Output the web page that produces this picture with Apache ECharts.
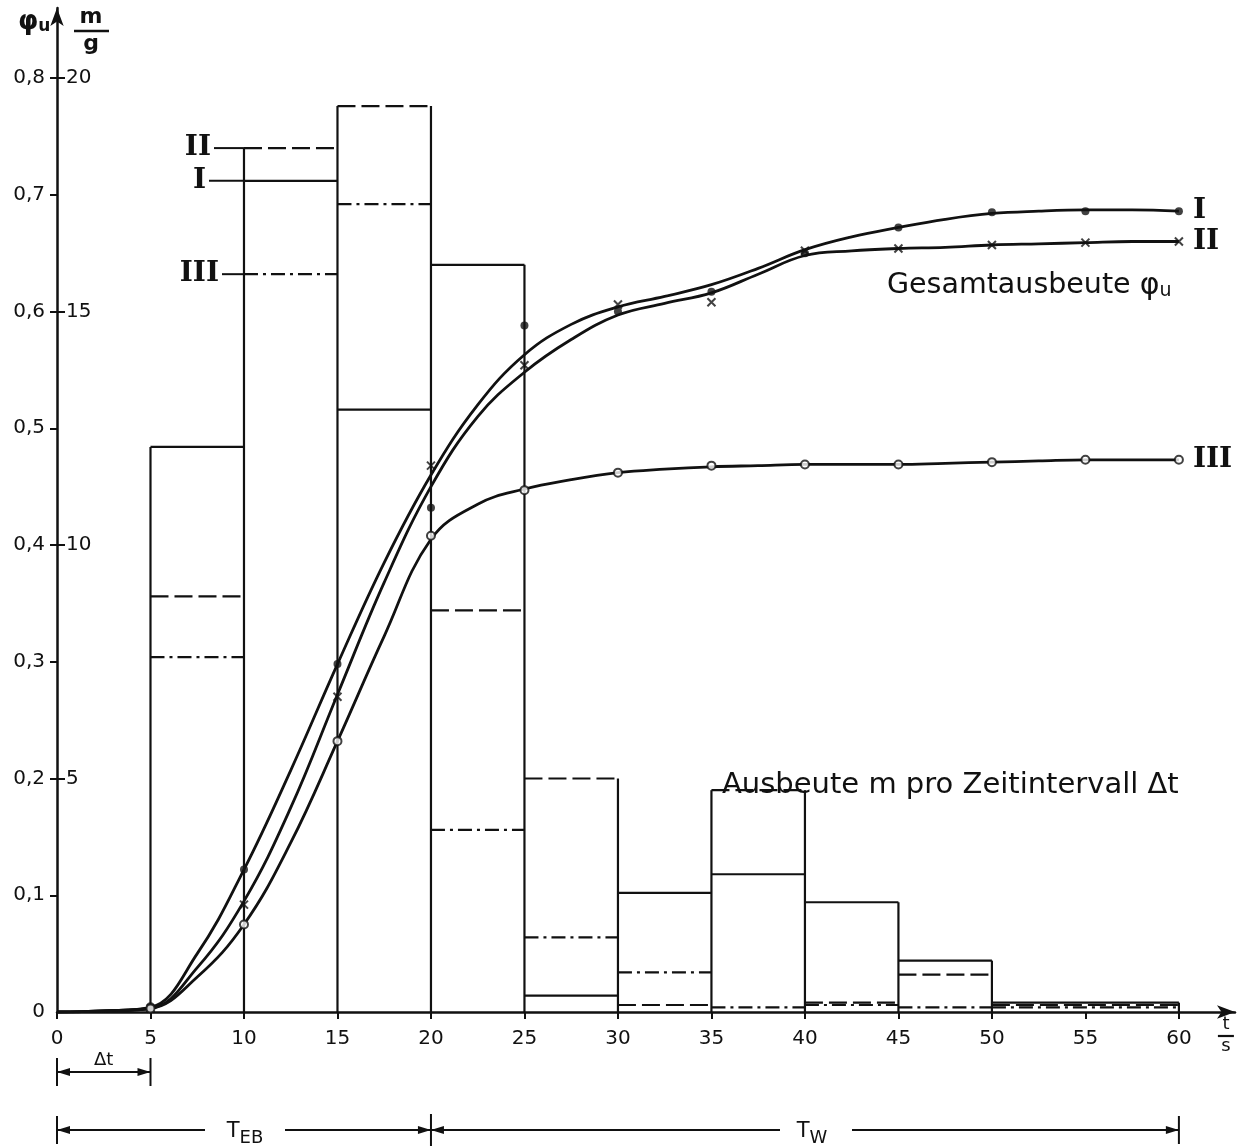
<!DOCTYPE html>
<html>
<head>
<meta charset="utf-8">
<script src="https://cdn.jsdelivr.net/npm/echarts@6/dist/echarts.min.js"></script>
<style>
  html, body { margin: 0; padding: 0; background: #fff; }
  #chart { width: 1240px; height: 1148px; }
</style>
</head>
<body>
<div id="chart"></div>
<script>
// ---- data ----------------------------------------------------------
// time axis ticks (s)
const timeTicks = [0, 5, 10, 15, 20, 25, 30, 35, 40, 45, 50, 55, 60];
// total yield phi_u ticks and yield-per-interval m/g ticks
const phiTicks = [0, 0.1, 0.2, 0.3, 0.4, 0.5, 0.6, 0.7, 0.8];
const massTicks = [5, 10, 15, 20];

// yield m per time interval (m/g), bins between consecutive edges
const binEdges = [5, 10, 15, 20, 25, 30, 35, 40, 45, 50, 60];
const massI   = [12.1, 17.8, 12.9, 16.0, 0.35, 2.55, 2.95, 2.35, 1.1, 0.2];
const massII  = [8.9, 18.5, 19.4, 8.6, 5.0, 0.15, 4.75, 0.2, 0.8, 0.15];
const massIII = [7.6, 15.8, 17.3, 3.9, 1.6, 0.85, 0.1, 0.15, 0.1, 0.1];

// smoothed total yield curves phi_u, sampled every 2.5 s
const curveT = [0, 2.5, 5, 7.5, 10, 12.5, 15, 17.5, 20, 22.5, 25, 27.5, 30,
                32.5, 35, 37.5, 40, 42.5, 45, 47.5, 50, 52.5, 55, 57.5, 60];
const curveI = [0, 0.001, 0.004, 0.05, 0.122, 0.207, 0.298, 0.385, 0.46, 0.52, 0.563, 0.589, 0.604,
                0.613, 0.623, 0.637, 0.653, 0.664, 0.672, 0.679, 0.684, 0.686, 0.687, 0.687, 0.686];
const curveII = [0, 0.001, 0.003, 0.038, 0.095, 0.175, 0.272, 0.368, 0.45, 0.51, 0.548, 0.576, 0.597,
                 0.607, 0.616, 0.632, 0.648, 0.652, 0.654, 0.655, 0.657, 0.658, 0.659, 0.66, 0.66];
const curveIII = [0, 0.001, 0.003, 0.03, 0.075, 0.145, 0.232, 0.322, 0.405, 0.435, 0.448, 0.456, 0.462,
                  0.465, 0.467, 0.468, 0.469, 0.469, 0.469, 0.47, 0.471, 0.472, 0.473, 0.473, 0.473];

// measured points phi_u
const pointT   = [5, 10, 15, 20, 25, 30, 35, 40, 45, 50, 55, 60];
const pointsI   = [0.005, 0.122, 0.298, 0.432, 0.588, 0.6, 0.617, 0.65, 0.672, 0.685, 0.686, 0.686];
const pointsII  = [0.003, 0.092, 0.27, 0.468, 0.554, 0.606, 0.608, 0.652, 0.654, 0.657, 0.659, 0.66];
const pointsIII = [0.003, 0.075, 0.232, 0.408, 0.447, 0.462, 0.468, 0.469, 0.469, 0.471, 0.473, 0.473];

// ---- styling -------------------------------------------------------
const INK = '#111';
const SANS = "'DejaVu Sans', sans-serif";
const SERIF = "'DejaVu Serif', 'Liberation Serif', serif";
const DASH = [18, 6];
const DASHDOT = [14, 5, 3, 5];

const chart = echarts.init(document.getElementById('chart'), null, { renderer: 'canvas' });

const pairs = (xs, ys) => xs.map((x, i) => [x, ys[i]]);
const bins = vals => vals.map((v, i) => [binEdges[i], binEdges[i + 1], v]);
const fmtComma = v => (v === 0 ? '0' : v.toFixed(1).replace('.', ','));

// top edge of each bin for one test run
function binTops(vals, dash) {
  return {
    type: 'custom',
    xAxisIndex: 0,
    yAxisIndex: 1,
    silent: true,
    clip: false,
    encode: { x: [0, 1], y: 2 },
    data: bins(vals),
    z: 3,
    renderItem: (params, api) => {
      const a = api.coord([api.value(0), api.value(2)]);
      const b = api.coord([api.value(1), api.value(2)]);
      return {
        type: 'line',
        shape: { x1: a[0], y1: a[1], x2: b[0], y2: b[1] },
        style: { stroke: INK, lineWidth: 2.2, lineDash: dash, fill: null }
      };
    }
  };
}

// solid bin walls up to the highest adjacent bar
const wallData = binEdges.map((e, k) => {
  const near = [];
  [massI, massII, massIII].forEach(arr => {
    if (k - 1 >= 0 && k - 1 < arr.length) near.push(arr[k - 1]);
    if (k < arr.length) near.push(arr[k]);
  });
  return [e, Math.max.apply(null, near)];
});

const walls = {
  type: 'custom',
  xAxisIndex: 0,
  yAxisIndex: 1,
  silent: true,
  clip: false,
  encode: { x: 0, y: 1 },
  data: wallData,
  z: 3,
  renderItem: (params, api) => {
    const a = api.coord([api.value(0), 0]);
    const b = api.coord([api.value(0), api.value(1)]);
    return {
      type: 'line',
      shape: { x1: a[0], y1: a[1], x2: b[0], y2: b[1] },
      style: { stroke: INK, lineWidth: 2.2, fill: null }
    };
  }
};

function curve(name, ys, label) {
  return {
    name,
    type: 'line',
    xAxisIndex: 0,
    yAxisIndex: 0,
    data: pairs(curveT, ys),
    smooth: 0.4,
    showSymbol: false,
    silent: true,
    z: 5,
    lineStyle: { color: INK, width: 2.8 },
    endLabel: {
      show: true,
      formatter: label,
      distance: 14,
      color: INK,
      fontFamily: SERIF,
      fontWeight: 'bold',
      fontSize: 28
    }
  };
}

function marks(name, ys, symbol, size, style) {
  return {
    name,
    type: 'scatter',
    xAxisIndex: 0,
    yAxisIndex: 0,
    data: pairs(pointT, ys),
    symbol,
    symbolSize: size,
    silent: true,
    z: 6,
    itemStyle: style
  };
}

const option = {
  animation: false,
  backgroundColor: '#fff',
  grid: { left: 57, right: 5, top: 8, bottom: 136, containLabel: false },
  xAxis: {
    type: 'value',
    min: 0,
    max: 63,
    splitLine: { show: false },
    axisLine: { show: true, lineStyle: { color: INK, width: 2.5 }, symbol: ['none', 'arrow'], symbolSize: [10, 18] },
    axisTick: { show: true, length: 7, customValues: timeTicks, lineStyle: { color: INK, width: 2 } },
    axisLabel: { customValues: timeTicks, margin: 17, color: INK, fontFamily: SANS, fontSize: 20 }
  },
  yAxis: [
    {
      type: 'value',
      min: 0,
      max: 0.86,
      position: 'left',
      splitLine: { show: false },
      axisLine: { show: true, lineStyle: { color: INK, width: 2.5 }, symbol: ['none', 'arrow'], symbolSize: [10, 18] },
      axisTick: { show: true, length: 7, customValues: phiTicks.slice(1), lineStyle: { color: INK, width: 2 } },
      axisLabel: { customValues: phiTicks, margin: 12, color: INK, fontFamily: SANS, fontSize: 20, formatter: fmtComma }
    },
    {
      type: 'value',
      min: 0,
      max: 21.5,
      position: 'left',
      splitLine: { show: false },
      axisLine: { show: false },
      axisTick: { show: true, inside: true, length: 8, customValues: massTicks, lineStyle: { color: INK, width: 2 } },
      axisLabel: { inside: true, customValues: massTicks, margin: 9, color: INK, fontFamily: SANS, fontSize: 20 }
    }
  ],
  series: [
    walls,
    binTops(massI, null),
    binTops(massII, DASH),
    binTops(massIII, DASHDOT),
    curve('I', curveI, 'I'),
    curve('II', curveII, 'II'),
    curve('III', curveIII, 'III'),
    marks('I pts', pointsI, 'circle', 8, { color: INK }),
    marks('II pts', pointsII, 'path://M0,0L10,10M10,0L0,10', 8, { color: 'none', borderColor: INK, borderWidth: 2 }),
    marks('III pts', pointsIII, 'emptyCircle', 8, { color: INK, borderWidth: 2 })
  ]
};

chart.setOption(option);

// ---- annotations ---------------------------------------------------
const X = v => chart.convertToPixel({ xAxisIndex: 0 }, v);
const YM = v => chart.convertToPixel({ yAxisIndex: 1 }, v);

const g = [];
const seg = (x1, y1, x2, y2, w) => g.push({
  type: 'line', silent: true, z: 10,
  shape: { x1, y1, x2, y2 },
  style: { stroke: INK, lineWidth: w || 2 }
});
const head = (tipX, y, dir) => g.push({
  type: 'polygon', silent: true, z: 10,
  shape: { points: [[tipX, y], [tipX - dir * 13, y - 4], [tipX - dir * 13, y + 4]] },
  style: { fill: INK }
});
const txt = (x, y, text, style) => g.push({
  type: 'text', silent: true, z: 10, x, y,
  style: Object.assign({ text, fill: INK, fontFamily: SANS, fontSize: 22, align: 'left', verticalAlign: 'middle' }, style)
});

// axis names: phi_u and m/g at the top of the ordinate, t/s at the abscissa
txt(18, 22, '{p|φ}{u|u}', {
  rich: {
    p: { fontFamily: SANS, fontSize: 26, fontWeight: 'bold', fill: INK },
    u: { fontFamily: SANS, fontSize: 17, fontWeight: 'bold', fill: INK, padding: [10, 0, 0, 0] }
  }
});
txt(91, 17, 'm', { align: 'center', fontSize: 22, fontWeight: 'bold' });
seg(74, 31, 109, 31, 2.5);
txt(91, 44, 'g', { align: 'center', fontSize: 22, fontWeight: 'bold' });

const tsX = X(60) + 47;
txt(tsX, 1024, 't', { align: 'center', fontSize: 18 });
seg(tsX - 8, 1036, tsX + 8, 1036, 2.2);
txt(tsX, 1046, 's', { align: 'center', fontSize: 18 });

// run labels at the second interval, with leader lines
const x10 = X(10);
[['II', massII[1], 30], ['I', massI[1], 35], ['III', massIII[1], 22]].forEach(([lab, v, lead]) => {
  const y = YM(v);
  seg(x10 - lead, y, x10, y, 2);
  txt(x10 - lead - 3, y, lab, { align: 'right', fontFamily: SERIF, fontWeight: 'bold', fontSize: 28 });
});

// series captions
txt(887, 286, 'Gesamtausbeute {p|φ}{u|u}', {
  fontSize: 28.5,
  rich: {
    p: { fontFamily: SANS, fontSize: 30, fill: INK },
    u: { fontFamily: SANS, fontSize: 19, fill: INK, padding: [11, 0, 0, 0] }
  }
});
txt(722, 785, 'Ausbeute m pro Zeitintervall Δt', { fontSize: 29 });

// dimension line for the interval width Δt
const yDt = 1072;
seg(X(0), yDt - 14, X(0), yDt + 14, 2);
seg(X(5), yDt - 14, X(5), yDt + 14, 2);
seg(X(0), yDt, X(5), yDt, 2);
head(X(0), yDt, -1);
head(X(5), yDt, 1);
txt((X(0) + X(5)) / 2, yDt - 12, 'Δt', { align: 'center', fontSize: 18 });

// dimension lines for T_EB and T_W
const yT = 1130;
seg(X(0), yT - 14, X(0), yT + 14, 2);
seg(X(20), yT - 16, X(20), yT + 16, 2);
seg(X(60), yT - 14, X(60), yT + 14, 2);
seg(X(0), yT, 205, yT, 2);
seg(285, yT, X(20), yT, 2);
head(X(0), yT, -1);
head(X(20), yT, 1);
txt(245, yT + 2, '{a|T}{b|EB}', {
  align: 'center',
  rich: {
    a: { fontFamily: SANS, fontSize: 21, fill: INK },
    b: { fontFamily: SANS, fontSize: 18, fill: INK, padding: [12, 0, 0, 0] }
  }
});
seg(X(20), yT, 780, yT, 2);
seg(852, yT, X(60), yT, 2);
head(X(20), yT, -1);
head(X(60), yT, 1);
txt(812, yT + 2, '{a|T}{b|W}', {
  align: 'center',
  rich: {
    a: { fontFamily: SANS, fontSize: 21, fill: INK },
    b: { fontFamily: SANS, fontSize: 18, fill: INK, padding: [12, 0, 0, 0] }
  }
});

chart.setOption({ graphic: g });
</script>
</body>
</html>
